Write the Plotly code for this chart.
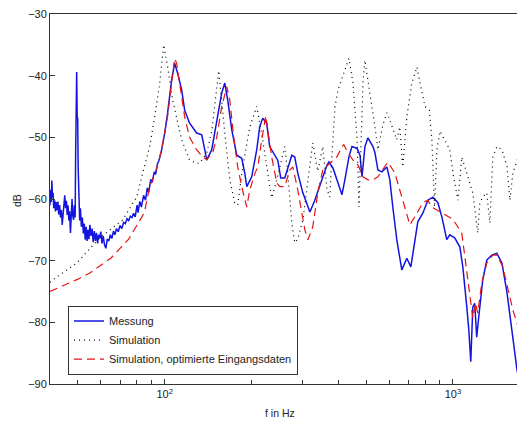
import math
import plotly.graph_objects as go

# ---------------- data ----------------
mess_f = [40.0, 40.2, 40.4, 40.6, 40.8, 41.0, 41.2, 41.5, 41.8, 42.0, 42.3, 42.6, 42.9, 43.2, 43.5,
          43.8, 44.1, 44.4, 44.7, 45.0, 45.3, 45.6, 45.9, 46.2, 46.5, 46.8, 47.1, 47.4, 47.7, 48.0,
          48.3, 48.6, 48.9, 49.1, 49.3, 49.5, 49.7, 49.9, 50.1, 50.4, 50.7, 51.0, 51.4, 51.8, 52.2,
          52.6, 53.0, 53.4, 53.8, 54.2, 54.6, 55.0, 55.5, 56.0, 56.5, 57.0, 57.5, 58.0, 58.5, 59.0,
          59.5, 60.0, 60.6, 61.2, 61.8, 62.5, 63.2, 64.0, 64.8, 65.6, 66.4, 67.2, 68.0, 69.0, 70.0,
          71.0, 72.0, 73.0, 74.0, 75.0, 76.0, 77.0, 78.0, 79.0, 80.2, 80.8, 82.0, 83.0, 84.5, 85.8,
          87.0, 88.0, 89.5, 90.5, 92.0, 93.0, 94.5, 95.5, 97.6, 100.0, 102.4, 105.7, 108.3, 110.9,
          114.5, 117.3, 122.0, 129.1, 134.4, 137.7, 139.9, 145.6, 151.5, 157.7, 161.6, 165.5, 170.9,
          177.8, 185.0, 189.6, 192.6, 200.4, 208.6, 213.6, 218.8, 225.8, 231.3, 240.8, 246.7, 252.7,
          260.9, 267.3, 276.0, 282.6, 289.5, 301.5, 319.0, 331.7, 351.0, 365.6, 371.5, 383.6, 399.3,
          412.1, 421.7, 435.5, 446.3, 464.8, 475.9, 483.6, 494.9, 506.8, 527.8, 536.3, 549.2, 566.9,
          589.9, 604.0, 618.5, 638.5, 664.6, 691.8, 714.3, 737.5, 755.3, 786.1, 818.3, 851.7, 886.5,
          915.2, 937.0, 951.9, 974.7, 1014, 1057, 1082, 1117, 1135, 1153, 1172, 1190, 1209, 1229,
          1269, 1310, 1364, 1420, 1479, 1540, 1603, 1642, 1668, 1690]
mess_db = [-61.0, -58.5, -60.5, -57.0, -59.8, -59.0, -61.5, -60.2, -62.0, -60.5, -61.8, -60.4, -62.5, -61.0, -63.0,
           -61.8, -64.2, -62.0, -60.0, -59.4, -61.5, -60.3, -62.6, -61.0, -63.5, -62.0, -65.5, -62.5, -60.0, -62.8,
           -63.4, -61.0, -63.0, -52.6, -47.0, -39.4, -46.6, -47.0, -55.0, -60.0, -63.5, -61.5, -64.5, -63.0, -65.6,
           -64.0, -66.6, -64.5, -66.8, -65.0, -66.5, -64.2, -66.0, -64.8, -67.0, -65.2, -66.8, -65.5, -67.2, -65.8,
           -66.4, -65.3, -67.2, -66.0, -67.4, -68.0, -66.5, -66.8, -65.8, -66.4, -65.2, -65.8, -64.8, -65.3, -64.3,
           -64.8, -63.8, -64.0, -63.2, -63.5, -62.8, -63.0, -62.3, -62.9, -61.0, -62.2, -60.4, -61.3, -59.4, -60.2,
           -58.2, -58.9, -56.8, -57.3, -55.6, -56.0, -54.2, -53.8, -52.0, -49.3, -46.0, -40.7, -38.0, -39.6,
           -42.3, -45.6, -47.7, -49.3, -49.6, -52.0, -53.7, -52.0, -47.2, -42.8, -41.2, -44.0, -48.8,
           -52.9, -53.4, -55.8, -58.0, -56.4, -52.0, -48.3, -46.9, -47.7, -51.5, -52.9, -53.7, -56.6,
           -56.6, -55.0, -52.9, -53.2, -55.8, -59.0, -62.1, -60.2, -56.9, -54.5, -54.0, -55.0, -57.4,
           -59.3, -56.9, -53.2, -51.5, -51.8, -52.9, -56.4, -51.5, -50.1, -51.5, -52.5, -55.3, -55.6,
           -54.8, -56.9, -61.3, -66.6, -71.5, -69.6, -71.0, -66.6, -63.7, -62.3, -60.2, -59.7, -60.6,
           -62.9, -65.0, -66.6, -65.8, -66.3, -67.8, -71.0, -77.5, -81.2, -86.4, -77.5, -76.9, -82.4, -79.1,
           -73.1, -69.9, -69.1, -68.8, -70.4, -75.2, -81.7, -86.1, -87.7, -89.0]

sim_f = [40.0, 40.9, 49.5, 59.5, 71.5, 79.9, 83.9, 88.7, 92.3, 96.1, 99.2, 102.4, 106.6, 114.5, 122.0,
         129.1, 132.3, 140.0, 145.6, 149.2, 154.0, 161.6, 168.2, 175.0, 179.2, 186.5, 197.4, 208.6,
         218.8, 227.7, 235.1, 244.9, 260.9, 267.3, 276.0, 282.6, 289.5, 301.5, 313.9, 326.4, 339.7,
         353.5, 365.6, 373.9, 380.1, 389.7, 399.3, 415.7, 435.5, 450.0, 465.0, 472.0, 480.0, 487.5,
         494.9, 507.2, 523.6, 536.3, 549.2, 571.4, 590.0, 604.0, 638.5, 654.0, 669.8, 691.8, 720.0,
         750.0, 769.0, 800.0, 828.0, 845.0, 863.0, 880.0, 902.0, 937.0, 974.7, 1000, 1041, 1073,
         1100, 1145, 1172, 1219, 1240, 1269, 1310, 1343, 1375, 1420, 1479, 1540, 1576, 1614, 1668, 1690]
sim_db = [-73.5, -73.1, -70.4, -66.3, -63.4, -59.7, -55.8, -51.5, -46.7, -41.2, -35.0, -38.6, -44.0, -50.4, -53.7,
          -54.2, -54.2, -52.5, -49.0, -45.0, -39.2, -49.3, -56.9, -60.6, -61.0, -54.8, -48.3, -45.0,
          -50.4, -55.8, -59.8, -56.9, -51.5, -55.8, -63.9, -67.1, -66.5, -63.4, -57.4, -50.9, -55.5,
          -51.5, -58.5, -59.7, -53.2, -45.0, -42.3, -40.0, -37.2, -41.2, -50.4, -61.3, -50.0, -41.0,
          -37.5, -40.7, -45.0, -48.3, -52.0, -48.0, -46.0, -47.2, -50.4, -48.3, -54.8, -46.7, -41.2,
          -38.6, -41.2, -45.0, -45.6, -50.4, -61.3, -52.0, -49.0, -50.4, -52.0, -55.8, -60.2, -53.2,
          -54.8, -57.4, -59.0, -65.5, -60.6, -59.7, -59.0, -63.9, -53.2, -51.5, -52.0, -54.8, -60.2, -55.8, -54.0, -53.0]

opt_f = [40.0, 45.0, 50.0, 55.0, 60.0, 65.0, 70.0, 75.0, 80.0, 85.0, 88.7, 93.8, 97.6, 100.0, 102.4,
         105.7, 108.3, 110.0, 112.7, 117.3, 122.0, 129.0, 135.5, 139.9, 146.8, 151.5, 157.7, 164.2,
         168.2, 173.6, 179.2, 185.0, 192.6, 197.4, 205.7, 210.4, 217.1, 224.2, 227.7, 235.1, 244.9,
         250.9, 260.9, 271.7, 278.2, 289.5, 299.1, 306.4, 313.9, 326.4, 339.7, 353.5, 373.9, 395.5,
         412.0, 418.4, 432.0, 450.0, 468.5, 487.5, 507.2, 527.8, 549.2, 594.6, 628.9, 665.0, 709.0,
         750.0, 786.0, 818.0, 845.0, 880.0, 922.0, 1000, 1073, 1117, 1155, 1172, 1199, 1219, 1259,
         1310, 1375, 1420, 1489, 1550, 1614, 1668, 1690]
opt_db = [-75.0, -74.0, -73.0, -72.0, -70.8, -69.6, -68.0, -66.5, -64.3, -62.2, -58.0, -55.0, -52.0, -49.5, -46.5,
          -41.0, -37.2, -38.0, -41.2, -46.7, -50.0, -52.0, -53.2, -53.6, -52.5, -50.0, -45.0, -41.8,
          -44.0, -50.0, -54.8, -58.0, -61.3, -58.5, -55.8, -54.8, -50.4, -46.5, -48.8, -53.2, -57.4,
          -58.0, -58.0, -55.3, -54.8, -58.5, -62.3, -65.0, -66.6, -64.5, -59.0, -55.3, -54.2, -53.2,
          -51.5, -51.2, -52.5, -53.7, -54.5, -56.4, -56.9, -56.9, -56.4, -54.0, -55.8, -59.7, -64.2,
          -62.3, -60.6, -60.2, -61.3, -61.8, -62.3, -63.3, -65.5, -72.0, -77.5, -79.3, -76.9, -78.5, -73.6,
          -70.4, -69.1, -69.1, -71.0, -74.3, -78.0, -80.1, -81.0]

legend_names = ["Messung", "Simulation", "Simulation, optimierte Eingangsdaten"]
major_ticks = [100, 1000]
major_text = ["10<sup>2</sup>", "10<sup>3</sup>"]
minor_ticks = [50, 60, 70, 80, 90, 200, 300, 400, 500, 600, 700, 800, 900]
y_ticks = [-90, -80, -70, -60, -50, -40, -30]
x_range_hz = [40, 1668]
y_range_db = [-90, -30]

# ---------------- figure ----------------
FONT = "Liberation Sans, Arial, Helvetica, sans-serif"
AX = "#333333"
TXT = "#222222"

fig = go.Figure()
fig.add_trace(go.Scatter(x=mess_f, y=mess_db, mode="lines", name=legend_names[0],
                         line=dict(color="rgb(20,20,225)", width=1.5)))
fig.add_trace(go.Scatter(x=sim_f, y=sim_db, mode="lines", name=legend_names[1],
                         line=dict(color="black", width=1.2, dash="1px,4px")))
fig.add_trace(go.Scatter(x=opt_f, y=opt_db, mode="lines", name=legend_names[2],
                         line=dict(color="rgb(230,20,20)", width=1.2, dash="8px,5px")))

xr = [math.log10(v) for v in x_range_hz]

fig.update_layout(
    width=517, height=421,
    margin=dict(l=50, r=0, t=14, b=37),
    paper_bgcolor="white", plot_bgcolor="white",
    font=dict(family=FONT, size=11, color=TXT),
    showlegend=True,
    legend=dict(x=0.0385, y=0.212, xanchor="left", yanchor="top",
                bgcolor="white", bordercolor="#333", borderwidth=1,
                font=dict(family=FONT, size=11, color=TXT),
                tracegroupgap=0, itemwidth=30),
    xaxis=dict(type="log", range=xr,
               tickmode="array", tickvals=major_ticks, ticktext=major_text,
               ticks="inside", ticklen=5, tickcolor=AX, tickwidth=1,
               minor=dict(tickmode="array", tickvals=minor_ticks, ticks="inside",
                          ticklen=4, tickcolor=AX, showgrid=False),
               showline=True, linecolor=AX, linewidth=1, mirror=True,
               showgrid=False, zeroline=False,
               tickfont=dict(family=FONT, size=11, color=TXT)),
    xaxis2=dict(type="log", range=xr, overlaying="x", side="top",
                tickmode="array", tickvals=major_ticks, ticks="inside", ticklen=5,
                tickcolor=AX, showticklabels=False,
                minor=dict(tickmode="array", tickvals=minor_ticks, ticks="inside",
                           ticklen=4, tickcolor=AX, showgrid=False),
                showline=False, showgrid=False, zeroline=False),
    yaxis=dict(range=y_range_db, tickmode="array", tickvals=y_ticks,
               ticks="inside", ticklen=5, tickcolor=AX,
               showline=True, linecolor=AX, linewidth=1, mirror=False,
               showgrid=False, zeroline=False,
               tickfont=dict(family=FONT, size=11, color=TXT)),
    yaxis2=dict(range=y_range_db, overlaying="y", side="right", tickmode="array",
                tickvals=y_ticks, ticks="inside", ticklen=5, tickcolor=AX,
                showticklabels=False, showline=False, showgrid=False, zeroline=False),
    annotations=[
        dict(text="dB", xref="paper", yref="paper", x=-0.0707, y=0.497,
             xanchor="center", yanchor="middle", textangle=-90, showarrow=False,
             font=dict(family=FONT, size=10.5, color=TXT)),
        dict(text="f in Hz", xref="paper", yref="paper", x=0.4925, y=-0.078,
             xanchor="center", yanchor="middle", showarrow=False,
             font=dict(family=FONT, size=10.5, color=TXT)),
    ],
)

fig.write_html("out.html")
